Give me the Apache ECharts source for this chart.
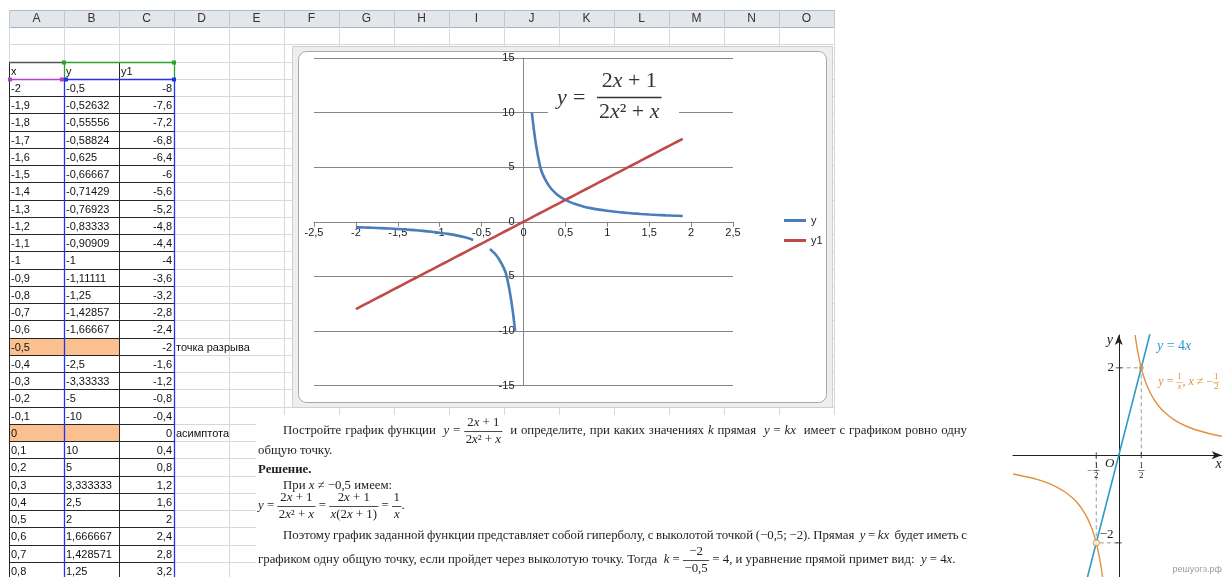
<!DOCTYPE html>
<html>
<head>
<meta charset="utf-8">
<script src="https://cdn.jsdelivr.net/npm/echarts@6/dist/echarts.min.js"></script>
<style>
html,body{margin:0;padding:0;background:#fff;}
#c{width:1225px;height:577px;}
</style>
</head>
<body>
<div id="c"></div>
<script>
// ---- sheet data: x, y = (2x+1)/(2x^2+x), y1 = 4x ----
const xs = [-2,-1.9,-1.8,-1.7,-1.6,-1.5,-1.4,-1.3,-1.2,-1.1,-1,-0.9,-0.8,-0.7,-0.6,-0.5,-0.4,-0.3,-0.2,-0.1,
            0,0.1,0.2,0.3,0.4,0.5,0.6,0.7,0.8,0.9,1,1.1,1.2,1.3,1.4,1.5,1.6,1.7,1.8,1.9];
const ys = [-0.5,-0.52632,-0.55556,-0.58824,-0.625,-0.66667,-0.71429,-0.76923,-0.83333,-0.90909,-1,-1.11111,
            -1.25,-1.42857,-1.66667,null,-2.5,-3.33333,-5,-10,null,10,5,3.333333,2.5,2,1.666667,1.428571,1.25,
            1.111111,1,0.909091,0.833333,0.769231,0.714286,0.666667,0.625,0.588235,0.555556,0.526316];
const y1s = [-8,-7.6,-7.2,-6.8,-6.4,-6,-5.6,-5.2,-4.8,-4.4,-4,-3.6,-3.2,-2.8,-2.4,-2,-1.6,-1.2,-0.8,-0.4,
             0,0.4,0.8,1.2,1.6,2,2.4,2.8,3.2,3.6,4,4.4,4.8,5.2,5.6,6,6.4,6.8,7.2,7.6];
const rowNotes = {15: 'точка разрыва', 20: 'асимптота'};
const headers = ['x', 'y', 'y1'];
const colLetters = ['A','B','C','D','E','F','G','H','I','J','K','L','M','N','O'];
const seriesNames = ['y', 'y1'];
const xRange = [-2.5, 2.5], xStep = 0.5;
const yRange = [-15, 15], yStep = 5;

// ---- sketch on the right: y = 1/x (x != -1/2) and y = 4x ----
const upperBranch = [[0.364,2.747],[0.38,2.632],[0.4,2.5],[0.45,2.222],[0.5,2],[0.55,1.818],[0.6,1.667],[0.7,1.429],
                     [0.8,1.25],[0.9,1.111],[1,1],[1.2,0.833],[1.4,0.714],[1.6,0.625],[1.8,0.556],[2,0.5],[2.29,0.437]];
const lowerBranch = [[-2.35,-0.426],[-2,-0.5],[-1.8,-0.556],[-1.6,-0.625],[-1.4,-0.714],[-1.2,-0.833],[-1,-1],
                     [-0.9,-1.111],[-0.8,-1.25],[-0.7,-1.429],[-0.6,-1.667],[-0.55,-1.818],[-0.5,-2],[-0.45,-2.222],
                     [-0.4,-2.5],[-0.36,-2.778]];
const lineK = [[-0.7,-2.8],[0.7,2.8]];
const guideRight = [[0.5,0],[0.5,2],[0,2]];
const guideLeft = [[-0.5,0],[-0.5,-2],[0,-2]];
const xTickMarks = [[-0.5,0],[0.5,0]];
const yTickMarks = [[0,2],[0,-2]];
const keptPoint = [[0.5,2]];
const holePoint = [[-0.5,-2]];

const SERIF = '"Liberation Serif", "Times New Roman", serif';
const SANS = '"Liberation Sans", Arial, sans-serif';
const fmt = v => String(v).replace('.', ',');

// ---- text helpers ----
const mc = document.createElement('canvas').getContext('2d');
const G = [];
function font(sz, it, b, fam) { return (it ? 'italic ' : '') + (b ? 'bold ' : '') + sz + 'px ' + (fam || SERIF); }
function tw(s, f) { mc.font = f; return mc.measureText(s).width; }
function parse(str) {
  const out = []; const re = /\{([^}]*)\}|([^{]+)/g; let m;
  while ((m = re.exec(str)) !== null) out.push(m[1] !== undefined ? {s: m[1], it: true} : {s: m[2], it: false});
  return out;
}
function txt(x, y, s, f, fill, align, z) {
  G.push({type: 'text', x: x, y: y, z: z || 9, silent: true,
    style: {text: s, font: f, fill: fill, align: align || 'left', verticalAlign: 'middle'}});
}
function line(x1, y1, x2, y2, stroke, w, z, dash) {
  G.push({type: 'line', z: z || 2, silent: true, shape: {x1: x1, y1: y1, x2: x2, y2: y2},
    style: {stroke: stroke, lineWidth: w || 1, lineDash: dash || null}});
}
function rect(x, y, w, h, fill, stroke, z, r) {
  G.push({type: 'rect', z: z || 1, silent: true, shape: {x: x, y: y, width: w, height: h, r: r || 0},
    style: {fill: fill, stroke: stroke || null, lineWidth: 1}});
}
function runsW(runs, sz, b) { return runs.reduce((a, r) => a + tw(r.s, font(sz, r.it, b)), 0); }
function putRuns(runs, x, y, o) {
  runs.forEach(r => { const f = font(o.sz, r.it, o.b); txt(x, y, r.s, f, o.fill, 'left', o.z); x += tw(r.s, f); });
  return x;
}
function fracW(fr, o) {
  const sz = o.fsz || o.sz;
  return Math.max(runsW(parse(fr.n), sz), runsW(parse(fr.d), sz)) + 2 * (o.pad || 1.5);
}
function putFrac(fr, x, y, o) {
  const sz = o.fsz || o.sz;
  const rn = parse(fr.n), rd = parse(fr.d);
  const wn = runsW(rn, sz), wd = runsW(rd, sz), W = fracW(fr, o);
  const so = Object.assign({}, o, {sz: sz, b: false});
  putRuns(rn, x + (W - wn) / 2, y - o.dy, so);
  putRuns(rd, x + (W - wd) / 2, y + o.dy, so);
  const by = Math.round(y + (o.bar || 0)) + 0.5;
  line(x, by, x + W, by, o.fill, o.bw || 0.8, o.z);
  return x + W;
}
function putLine(items, x0, y, o) {
  const boxes = [];
  items.forEach(it => {
    if (typeof it === 'string') {
      it.split(/( +)/).forEach(p => {
        if (!p) return;
        if (p.trim() === '') boxes.push({g: p.length}); else boxes.push({runs: parse(p)});
      });
    } else boxes.push({fr: it});
  });
  const sp = tw(' ', font(o.sz, false, o.b));
  let nat = 0, glue = 0;
  boxes.forEach(b => {
    if (b.g) { glue += b.g; nat += b.g * sp; }
    else if (b.runs) nat += runsW(b.runs, o.sz, o.b);
    else nat += fracW(b.fr, o);
  });
  let gw = sp;
  if (o.right && glue) gw = sp + (o.right - x0 - nat) / glue;
  let x = x0;
  boxes.forEach(b => {
    if (b.g) x += b.g * gw;
    else if (b.runs) x = putRuns(b.runs, x, y, o);
    else x = putFrac(b.fr, x, y, o);
  });
  return x;
}

// ---- spreadsheet ----
const COLW = 55, X0 = 9, NCOL = colLetters.length;
const colX = c => X0 + COLW * c;
const rowY = r => Math.round(27 + 17.25 * r);
const XR = colX(NCOL);
const GRID = '#d5d9df';
const CELL_FONT = font(11, false, false, SANS);
const HR = 2; // row holding the column titles

// header strip
rect(X0, 10, XR - X0, 17, '#e3e6ea', null, 1);
line(X0, 10.5, XR, 10.5, '#b4bac2', 1, 2);
line(X0, 27.5, XR, 27.5, '#a9b1ba', 1, 2);
for (let c = 0; c <= NCOL; c++) line(colX(c) + 0.5, 10, colX(c) + 0.5, 27, '#c2c8cf', 1, 2);
colLetters.forEach((L, c) => txt(colX(c) + COLW / 2, 19, L, font(12, false, false, SANS), '#333', 'center', 3));

// orange cells for the missing values
Object.keys(rowNotes).forEach(k => {
  const t = rowY(+k + HR + 1);
  rect(colX(0) + 1, t + 1, 2 * COLW - 1, rowY(+k + HR + 2) - t - 1, '#fac08f', null, 1);
});

// light cell grid
for (let r = 1; r <= 32; r++) line(X0, rowY(r) + 0.5, XR, rowY(r) + 0.5, GRID, 1, 2);
for (let c = 0; c <= NCOL; c++) line(colX(c) + 0.5, 27, colX(c) + 0.5, 577, GRID, 1, 2);

// table borders (A:C)
for (let r = HR; r <= 32; r++) line(X0, rowY(r) + 0.5, colX(3), rowY(r) + 0.5, '#262626', 1, 3);
for (let c = 0; c <= 3; c++) line(colX(c) + 0.5, rowY(HR), colX(c) + 0.5, 577, '#262626', 1, 3);
line(X0, rowY(HR) + 0.5, colX(1), rowY(HR) + 0.5, '#555', 1.5, 3);

// range highlight of the chart source
const GREEN = '#2ea02e', BLUE = '#2233ee', PURPLE = '#b53fcf';
line(colX(1), rowY(HR) + 0.5, colX(3), rowY(HR) + 0.5, GREEN, 1.3, 4);
line(colX(1) + 0.5, rowY(HR), colX(1) + 0.5, rowY(HR + 1), GREEN, 1.3, 4);
line(colX(3) + 0.5, rowY(HR), colX(3) + 0.5, rowY(HR + 1), GREEN, 1.3, 4);
line(X0, rowY(HR + 1) + 0.5, colX(1), rowY(HR + 1) + 0.5, PURPLE, 1.3, 4);
line(colX(1), rowY(HR + 1) + 0.5, colX(3), rowY(HR + 1) + 0.5, BLUE, 1.3, 4);
line(colX(1) + 0.5, rowY(HR + 1), colX(1) + 0.5, 577, BLUE, 1.3, 4);
line(colX(3) + 0.5, rowY(HR + 1), colX(3) + 0.5, 577, BLUE, 1.3, 4);
[[colX(1), rowY(HR), GREEN], [colX(3), rowY(HR), GREEN], [X0 + 1, rowY(HR + 1), PURPLE], [colX(1) - 2, rowY(HR + 1), PURPLE],
 [colX(1) + 2, rowY(HR + 1), BLUE], [colX(3), rowY(HR + 1), BLUE]].forEach(p => rect(p[0] - 2, p[1] - 1.5, 4, 4, p[2], null, 5));

// cell texts
headers.forEach((h, c) => txt(colX(c) + 2, rowY(HR) + 10, h, CELL_FONT, '#111', 'left', 6));
xs.forEach((x, k) => {
  const cy = rowY(k + HR + 1) + 10;
  if (cy > 590) return;
  txt(colX(0) + 2, cy, fmt(x), CELL_FONT, '#111', 'left', 6);
  if (ys[k] !== null) txt(colX(1) + 2, cy, fmt(ys[k]), CELL_FONT, '#111', 'left', 6);
  txt(colX(3) - 2, cy, fmt(y1s[k]), CELL_FONT, '#111', 'right', 6);
  if (rowNotes[k]) txt(colX(3) + 2, cy, rowNotes[k], CELL_FONT, '#111', 'left', 6);
});

// ---- chart frame ----
rect(292.5, 46.5, 540, 361, '#eeeeee', '#cfcfcf', 4);
rect(298.5, 51.5, 528, 351, '#ffffff', '#a8a8a8', 4, 8);

// formula inside the chart
rect(548, 62, 131, 66, '#ffffff', null, 7);
const FO = {sz: 22, fill: '#333', z: 8, dy: 15.5, pad: 2, bw: 1.3};
putRuns(parse('{y}'), 557, 98, FO);
putRuns(parse('='), 573, 98, FO);
putFrac({n: '2{x} + 1', d: '2{x}² + {x}'}, 597, 97, FO);

// ---- problem text ----
rect(256, 415, 744, 162, '#ffffff', null, 8);
const TO = {sz: 12.8, fill: '#1e1e1e', z: 9, dy: 8.5, pad: 1.5, bw: 0.8};
putLine(['Постройте график функции  {y} = ', {n: '2{x} + 1', d: '2{x}² + {x}'},
         '  и определите, при каких значениях {k} прямая  {y} = {kx}  имеет с графиком ровно одну'],
        283, 431, Object.assign({}, TO, {right: 967}));
putLine(['общую точку.'], 258, 451, TO);
putLine(['Решение.'], 258, 470, Object.assign({}, TO, {b: true}));
putLine(['При {x} ≠ −0,5 имеем:'], 283, 486, TO);
putLine(['{y} = ', {n: '2{x} + 1', d: '2{x}² + {x}'}, ' = ', {n: '2{x} + 1', d: '{x}(2{x} + 1)'}, ' = ', {n: '1', d: '{x}'}, '.'],
        258, 506, TO);
putLine(['Поэтому график заданной функции представляет собой гиперболу, с выколотой точкой (−0,5; −2). Прямая  {y} = {kx}  будет иметь с'],
        283, 536, Object.assign({}, TO, {right: 967}));
putLine(['графиком одну общую точку, если пройдет через выколотую точку. Тогда  {k} = ', {n: '−2', d: '−0,5'},
         ' = 4, и уравнение прямой примет вид:  {y} = 4{x}.'], 258, 560, TO);

// ---- chart ----
const chart = echarts.init(document.getElementById('c'), null, {renderer: 'canvas'});
const AX = '#868686';
const ORANGE = '#e0913e', TEAL = '#2b9bc8';
const sk = {xAxisIndex: 1, yAxisIndex: 1, z: 9, silent: true, animation: false};
const main = {left: 314, top: 58, width: 419, height: 327.5};
// axes cross at zero: shift them from the grid edge to the zero line
const xAxisShift = -main.height * (0 - yRange[0]) / (yRange[1] - yRange[0]);
const yAxisShift = -main.width * (0 - xRange[0]) / (xRange[1] - xRange[0]);

chart.setOption({
  animation: false,
  backgroundColor: '#ffffff',
  textStyle: {fontFamily: SANS},
  grid: [
    main,
    {left: 1013, top: 335, width: 208.8, height: 245}
  ],
  legend: {
    data: seriesNames, orient: 'vertical', left: 779, top: 210, icon: 'rect', z: 12, zlevel: 0,
    itemWidth: 22, itemHeight: 3, itemGap: 9, selectedMode: false,
    textStyle: {fontSize: 11, color: '#222', fontFamily: SANS}
  },
  xAxis: [
    {gridIndex: 0, type: 'value', min: xRange[0], max: xRange[1], interval: xStep, z: 5,
     position: 'bottom', offset: xAxisShift,
     axisLine: {onZero: false, lineStyle: {color: AX, width: 1}},
     axisTick: {show: true, length: 5, lineStyle: {color: AX}},
     axisLabel: {margin: 6, color: '#222', fontSize: 11, fontFamily: SANS, formatter: fmt},
     splitLine: {show: false}},
    {gridIndex: 1, type: 'value', min: -2.35, max: 2.29, z: 9,
     axisLine: {onZero: true, symbol: ['none', 'arrow'], symbolSize: [6, 10], lineStyle: {color: '#222', width: 1}},
     axisTick: {show: false}, axisLabel: {show: false}, splitLine: {show: false}}
  ],
  yAxis: [
    {gridIndex: 0, type: 'value', min: yRange[0], max: yRange[1], interval: yStep, z: 5,
     position: 'left', offset: yAxisShift,
     axisLine: {show: true, onZero: false, lineStyle: {color: AX, width: 1}},
     axisTick: {show: false},
     axisLabel: {margin: 9, color: '#222', fontSize: 11, fontFamily: SANS, formatter: fmt},
     splitLine: {show: true, lineStyle: {color: AX, width: 1}}},
    {gridIndex: 1, type: 'value', min: -2.78, max: 2.75, z: 9,
     axisLine: {onZero: true, symbol: ['none', 'arrow'], symbolSize: [6, 10], lineStyle: {color: '#222', width: 1}},
     axisTick: {show: false}, axisLabel: {show: false}, splitLine: {show: false}}
  ],
  series: [
    {name: seriesNames[0], type: 'line', xAxisIndex: 0, yAxisIndex: 0, z: 6, smooth: 0.4, showSymbol: false,
     connectNulls: false, color: '#4a7ebb', lineStyle: {width: 2.6, color: '#4a7ebb'},
     data: xs.map((x, i) => [x, ys[i] === null ? '-' : ys[i]])},
    {name: seriesNames[1], type: 'line', xAxisIndex: 0, yAxisIndex: 0, z: 6, smooth: 0.4, showSymbol: false,
     color: '#be4b48', lineStyle: {width: 2.6, color: '#be4b48'},
     data: xs.map((x, i) => [x, y1s[i]])},

    Object.assign({type: 'line', data: guideRight, showSymbol: false, lineStyle: {color: '#9a9a9a', width: 1, type: [4, 3]}}, sk),
    Object.assign({type: 'line', data: guideLeft, showSymbol: false, lineStyle: {color: '#9a9a9a', width: 1, type: [4, 3]}}, sk),
    Object.assign({type: 'line', data: upperBranch, smooth: 0.3, showSymbol: false, lineStyle: {color: ORANGE, width: 1.4}}, sk),
    Object.assign({type: 'line', data: lowerBranch, smooth: 0.3, showSymbol: false, lineStyle: {color: ORANGE, width: 1.4}}, sk),
    Object.assign({type: 'line', data: lineK, showSymbol: false, lineStyle: {color: TEAL, width: 1.6}}, sk),
    Object.assign({type: 'scatter', data: xTickMarks, symbol: 'rect', symbolSize: [1, 6], itemStyle: {color: '#222'}}, sk),
    Object.assign({type: 'scatter', data: yTickMarks, symbol: 'rect', symbolSize: [6, 1], itemStyle: {color: '#222'}}, sk),
    Object.assign({type: 'scatter', data: keptPoint, symbol: 'circle', symbolSize: 5, itemStyle: {color: ORANGE}}, sk, {z: 10}),
    Object.assign({type: 'scatter', data: holePoint, symbol: 'circle', symbolSize: 6,
                   itemStyle: {color: '#ffffff', borderColor: ORANGE, borderWidth: 1.2}}, sk, {z: 10})
  ]
});

// labels of the sketch, placed through its axes
const P = (x, y) => chart.convertToPixel({gridIndex: 1}, [x, y]);
let p = P(-0.2, 2.62); txt(p[0], p[1], 'y', font(14, true), '#222', 'center', 11);
p = P(2.22, -0.2); txt(p[0], p[1], 'x', font(14, true), '#222', 'center', 11);
p = P(-0.2, -0.18); txt(p[0], p[1], 'O', font(13, true), '#222', 'center', 11);
p = P(-0.18, 2); txt(p[0], p[1], '2', font(13), '#222', 'center', 11);
p = P(-0.27, -1.81); txt(p[0], p[1], '−2', font(13), '#222', 'center', 11);
const SF = {sz: 9, fill: '#222', z: 11, dy: 5, pad: 1, bw: 0.6};
p = P(0.5, -0.34); putFrac({n: '1', d: '2'}, p[0] - fracW({n: '1', d: '2'}, SF) / 2, p[1], SF);
p = P(-0.5, -0.34); {
  const w = fracW({n: '1', d: '2'}, SF);
  putFrac({n: '1', d: '2'}, p[0] - w / 2, p[1], SF);
  txt(p[0] - w / 2 - 1, p[1], '−', font(9), '#222', 'right', 11);
}
p = P(0.85, 2.5); putRuns(parse('{y} = 4{x}'), p[0], p[1], {sz: 14, fill: TEAL, z: 11});
p = P(0.88, 1.68);
{
  const OO = {sz: 12, fsz: 9, fill: ORANGE, z: 11, dy: 5, pad: 0.8, bw: 0.6};
  let x = putRuns(parse('{y} = '), p[0], p[1], OO);
  x = putFrac({n: '1', d: '{x}'}, x, p[1], OO);
  x = putRuns(parse(', {x} ≠ −'), x, p[1], OO);
  putFrac({n: '1', d: '2'}, x, p[1], OO);
}
txt(1222, 570, 'решуогэ.рф', font(9, false, false, SANS), '#9a9a9a', 'right', 11);

chart.setOption({graphic: {elements: G}});
</script>
</body>
</html>
